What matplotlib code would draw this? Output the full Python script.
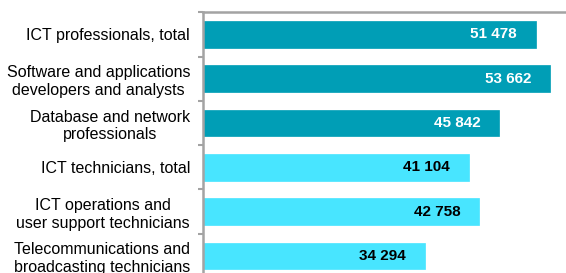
import matplotlib
matplotlib.use("Agg")
import matplotlib.pyplot as plt
import numpy as np

plt.rcParams['font.family'] = ['Liberation Sans', 'DejaVu Sans']

# data
Categories = [
    "ICT professionals, total",
    "Software and applications\ndevelopers and analysts",
    "Database and network\nprofessionals",
    "ICT technicians, total",
    "ICT operations and\nuser support technicians",
    "Telecommunications and\nbroadcasting technicians",
]
Values = [51478, 53662, 45842, 41104, 42758, 34294]
ValueLabels = ["51 478", "53 662", "45 842", "41 104", "42 758", "34 294"]
Groups = ["prof", "prof", "prof", "tech", "tech", "tech"]

GroupColor = {"prof": "#009EB6", "tech": "#48E5FF"}
GroupText = {"prof": "white", "tech": "black"}
AxisGray = "#A3A3A3"

fig = plt.figure(figsize=(5.66, 2.73), dpi=100)
ax = fig.add_axes([0.3592, -0.0186, 0.6408, 0.9736])

pos = np.arange(len(Categories))
colors = [GroupColor[g] for g in Groups]
ax.barh(pos, Values, height=0.6, color=colors, edgecolor=colors, linewidth=0.5, zorder=2)

for p, v, lab, g in zip(pos, Values, ValueLabels, Groups):
    ax.annotate(lab, (v, p), xytext=(-13.5, 0), textcoords="offset points",
                ha="right", va="center", fontsize=11, fontweight="bold",
                color=GroupText[g], zorder=3)

ax.set_xlim(0, 56150)
ax.set_ylim(len(Categories) - 0.5, -0.5)

ax.set_yticks(pos)
ax.set_yticklabels(Categories, fontsize=11.5)
for lbl in ax.get_yticklabels():
    lbl.set_multialignment("center")
ax.tick_params(axis="y", which="major", length=0, pad=9.5)
ax.set_yticks(np.arange(len(Categories) + 1) - 0.5, minor=True)
ax.tick_params(axis="y", which="minor", length=3.5, width=1.5, color=AxisGray)
ax.set_xticks([])

for side in ["right", "bottom"]:
    ax.spines[side].set_visible(False)
for side in ["left", "top"]:
    ax.spines[side].set_color(AxisGray)
    ax.spines[side].set_linewidth(1.8)

fig.savefig("out.png", dpi=100)
